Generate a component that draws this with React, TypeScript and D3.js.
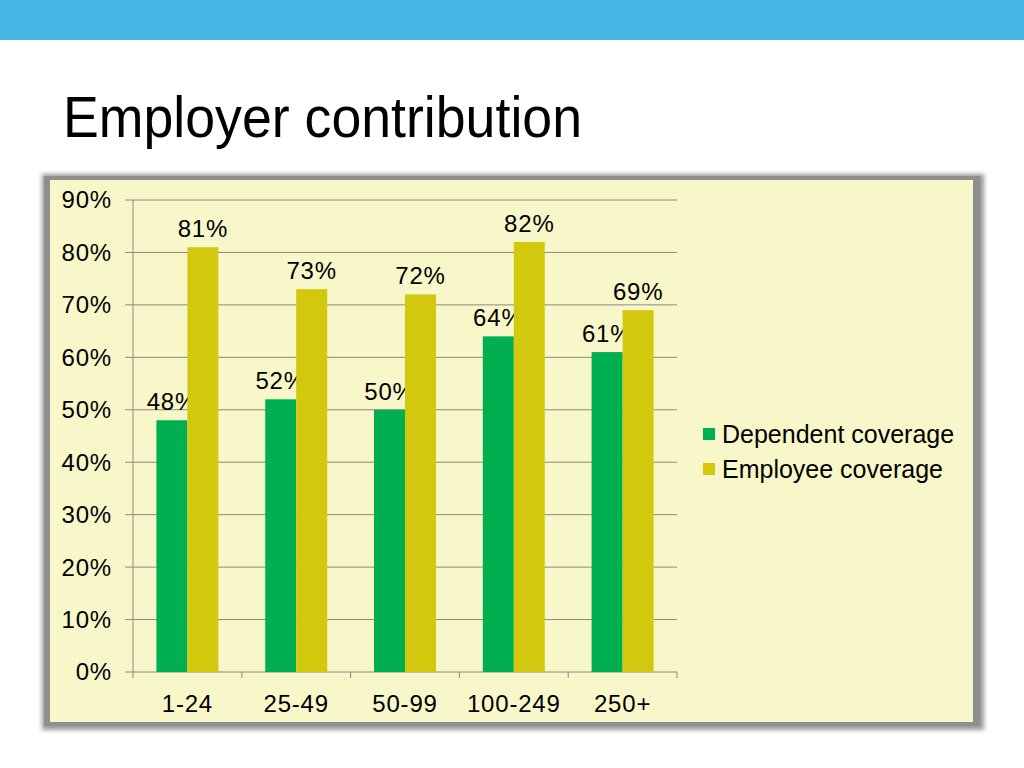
import React from "react";
import * as d3 from "d3";

const categories = ["1-24", "25-49", "50-99", "100-249", "250+"];
const dependentCoverage = [48, 52, 50, 64, 61];
const employeeCoverage = [81, 73, 72, 82, 69];
const yTicks = [0, 10, 20, 30, 40, 50, 60, 70, 80, 90];
const seriesNames = ["Dependent coverage", "Employee coverage"];
const seriesColors = ["#00B050", "#D2C90F"];

export default function App() {
  const W = 1024, H = 768;
  const x0 = 133, x1 = 677, yTop = 200, yBot = 672;
  const x = d3.scaleBand<string>().domain(categories).range([x0, x1]).paddingInner(0).paddingOuter(0);
  const y = d3.scaleLinear().domain([0, 90]).range([yBot, yTop]);
  const barW = 31;
  const series = [dependentCoverage, employeeCoverage];
  const font = "Liberation Sans, Arial, sans-serif";

  return (
    <svg width={W} height={H} style={{ position: "absolute", left: 0, top: 0 }}>
      <defs>
        <filter id="sh" x="-5%" y="-5%" width="110%" height="110%">
          <feGaussianBlur stdDeviation="2" />
        </filter>
      </defs>
      <rect x={0} y={0} width={W} height={H} fill="#ffffff" />
      <rect x={0} y={0} width={W} height={40} fill="#47B8E6" />
      <text x={63} y={137} fontFamily={font} fontSize={58} fill="#000" textLength={519} lengthAdjust="spacingAndGlyphs">
        Employer contribution
      </text>
      {/* frame */}
      <rect x={42} y={174} width={942} height={556} fill="#9a9a9a" filter="url(#sh)" />
      <rect x={44} y={176} width={936} height={550} fill="#8f8f8f" />
      <rect x={50} y={180} width={923} height={542} fill="#F8F7C9" />
      {/* grid */}
      {yTicks.map((t) => (
        <g key={t}>
          <line x1={125} x2={x1} y1={y(t)} y2={y(t)} stroke="#8a8a80" strokeWidth={1} />
          <text x={112} y={y(t)} dy="0.35em" textAnchor="end" fontFamily={font} fontSize={24} letterSpacing={0.8} fill="#000">
            {t}%
          </text>
        </g>
      ))}
      <line x1={x0} x2={x0} y1={yTop} y2={yBot} stroke="#8a8a80" strokeWidth={1} />
      {categories.map((c, i) => (
        <line key={"t" + i} x1={x(c)!} x2={x(c)!} y1={yBot} y2={yBot + 6} stroke="#8a8a80" />
      ))}
      <line x1={x1} x2={x1} y1={yBot} y2={yBot + 6} stroke="#8a8a80" />
      {/* bars */}
      {categories.map((c, i) => {
        const cx = x(c)! + x.bandwidth() / 2;
        return (
          <g key={c}>
            {series.map((s, j) => {
              const bx = cx - barW + j * barW;
              return (
                <g key={j}>
                  <rect x={bx} y={y(s[i])} width={barW} height={yBot - y(s[i])} fill={seriesColors[j]} />
                  <text x={bx + barW / 2} y={y(s[i]) - 10} textAnchor="middle" fontFamily={font} fontSize={24} letterSpacing={0.8} fill="#000">
                    {s[i]}%
                  </text>
                </g>
              );
            })}
            <text x={cx} y={704} dy="0.35em" textAnchor="middle" fontFamily={font} fontSize={24} letterSpacing={0.8} fill="#000">
              {c}
            </text>
          </g>
        );
      })}
      {/* legend */}
      {seriesNames.map((n, j) => (
        <g key={n}>
          <rect x={703} y={428 + j * 35} width={12} height={12} fill={seriesColors[j]} />
          <text x={722} y={434 + j * 35} dy="0.35em" fontFamily={font} fontSize={25} fill="#000">
            {n}
          </text>
        </g>
      ))}
    </svg>
  );
}
